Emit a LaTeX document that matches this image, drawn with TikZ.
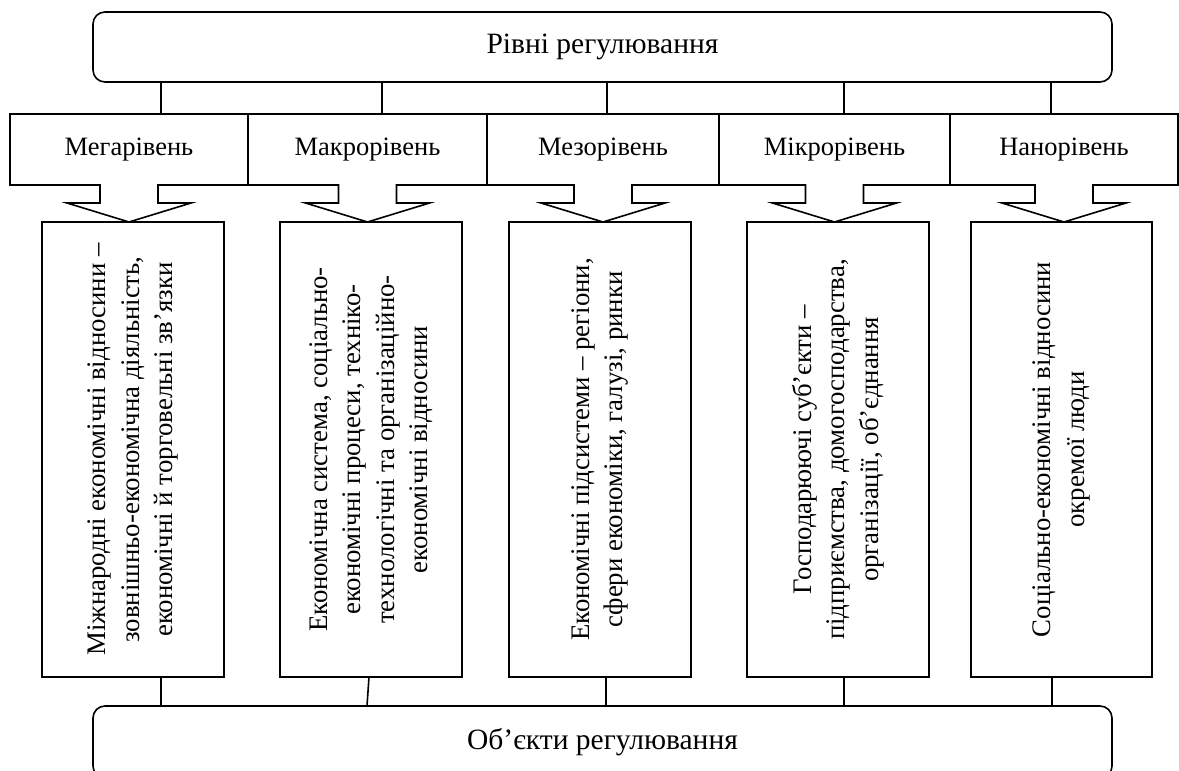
\documentclass[tikz,border=0pt]{standalone}
\usepackage{fontspec}
\usepackage{graphicx}
\setmainfont{Liberation Serif}
\usetikzlibrary{calc}
\begin{document}
\begin{tikzpicture}[x=1pt,y=-1pt,
  line width=1.6pt,
  every node/.style={font=\fontsize{26.5}{33}\selectfont, outer sep=0pt},
  roundbox/.style={draw, rounded corners=12pt, minimum width=1019pt, inner sep=0pt,
    font=\fontsize{29.5}{35}\selectfont},
  levelbox/.style={draw=none, minimum height=71pt, inner sep=0pt},
  objbox/.style={draw, minimum width=182pt, minimum height=455pt, inner sep=0pt,
    font=\fontsize{26.8}{33.5}\selectfont},
]
\useasboundingbox (0,0) rectangle (1179,771);
\clip (0,0) rectangle (1179,771);

% header and footer
\node[roundbox, minimum height=70pt] (top) at (602.5,47) {Рівні регулювання};
\node[roundbox, minimum height=72pt] (bot) at (602.5,742) {Об’єкти регулювання};

% level callouts
\node[levelbox, minimum width=238pt] (c1) at (129,149.5)   {Мегарівень};
\node[levelbox, minimum width=239pt] (c2) at (367.5,149.5) {Макрорівень};
\node[levelbox, minimum width=232pt] (c3) at (603,149.5)   {Мезорівень};
\node[levelbox, minimum width=231pt] (c4) at (834.5,149.5) {Мікрорівень};
\node[levelbox, minimum width=228pt] (c5) at (1064,149.5)  {Нанорівень};

\foreach \n in {c1,c2,c3,c4,c5}
  \draw (\n.north west) -- (\n.north east) -- (\n.south east)
    -- ($(\n.south)+(29,0)$) -- ($(\n.south)+(29,18)$) -- ($(\n.south)+(62,18)$)
    -- ($(\n.south)+(0,37)$)
    -- ($(\n.south)+(-62,18)$) -- ($(\n.south)+(-29,18)$) -- ($(\n.south)+(-29,0)$)
    -- (\n.south west) -- cycle;

% object boxes
\node[objbox] (b1) at (133,449.5) {\rotatebox{90}{\parbox{450pt}{\centering
  Міжнародні економічні відносини –\\ зовнішньо-економічна діяльність,\\ економічні й торговельні зв’язки}}};
\node[objbox] (b2) at (371,449.5) {\rotatebox{90}{\parbox{450pt}{\centering
  Економічна система, соціально-\\ економічні процеси, техніко-\\ технологічні та організаційно-\\ економічні відносини}}};
\node[objbox] (b3) at (600,449.5) {\rotatebox{90}{\parbox{450pt}{\centering
  Економічні підсистеми – регіони,\\ сфери економіки, галузі, ринки}}};
\node[objbox] (b4) at (838,449.5) {\rotatebox{90}{\parbox{450pt}{\centering
  Господарюючі суб’єкти –\\ підприємства, домогосподарства,\\ організації, об’єднання}}};
\node[objbox, minimum width=181pt] (b5) at (1061.5,449.5) {\rotatebox{90}{\parbox{450pt}{\centering
  Соціально-економічні відносини\\ окремої люди}}};

% links from the header to the levels
\draw ([xshift=32pt]c1.north)   -- ([xshift=32pt]c1.north |- top.south);
\draw ([xshift=14.5pt]c2.north) -- ([xshift=14.5pt]c2.north |- top.south);
\draw ([xshift=4pt]c3.north)    -- ([xshift=4pt]c3.north |- top.south);
\draw ([xshift=9.5pt]c4.north)  -- ([xshift=9.5pt]c4.north |- top.south);
\draw ([xshift=-13pt]c5.north)  -- ([xshift=-13pt]c5.north |- top.south);

% links from the objects to the footer
\draw ([xshift=28pt]b1.south)   -- ([xshift=28pt]b1.south |- bot.north);
\draw ([xshift=-2pt]b2.south)   -- ([xshift=-4pt]b2.south |- bot.north);
\draw ([xshift=6pt]b3.south)    -- ([xshift=6pt]b3.south |- bot.north);
\draw ([xshift=6pt]b4.south)    -- ([xshift=6pt]b4.south |- bot.north);
\draw ([xshift=-9.5pt]b5.south) -- ([xshift=-9.5pt]b5.south |- bot.north);
\end{tikzpicture}
\end{document}
